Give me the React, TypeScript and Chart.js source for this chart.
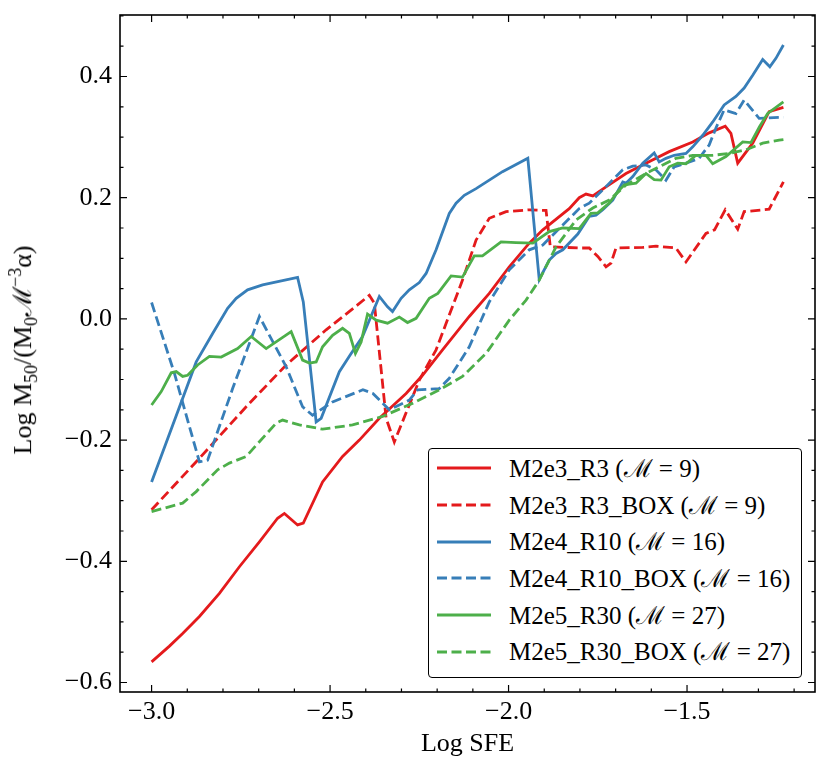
import { useEffect, useRef } from 'react'
import { Chart, registerables } from 'chart.js'

Chart.register(...registerables)

const FONT = "'Liberation Serif', 'DejaVu Serif', serif"
const RED = '#e41a1c'
const BLUE = '#377eb8'
const GREEN = '#4daf4a'

// axis limits (matplotlib 5% margins around the data)
const X_MIN = -3.0885
const X_MAX = -1.1415
const Y_MIN = -0.6157
const Y_MAX = 0.5015

// M2e3_R3
const R3_X = [-3.0, -2.95, -2.913, -2.866, -2.81, -2.754, -2.698, -2.647, -2.628, -2.591, -2.575, -2.521, -2.465, -2.418, -2.362, -2.287, -2.241, -2.185, -2.11, -2.054, -1.998, -1.942, -1.904, -1.83, -1.802, -1.783, -1.764, -1.727, -1.671, -1.615, -1.55, -1.484, -1.438, -1.393, -1.377, -1.358, -1.316, -1.27, -1.23]
const R3_Y = [-0.566, -0.54, -0.519, -0.491, -0.453, -0.409, -0.368, -0.329, -0.321, -0.34, -0.337, -0.269, -0.227, -0.2, -0.164, -0.123, -0.093, -0.051, 0.004, 0.042, 0.086, 0.125, 0.147, 0.182, 0.2, 0.206, 0.203, 0.218, 0.24, 0.257, 0.276, 0.292, 0.307, 0.318, 0.306, 0.257, 0.29, 0.342, 0.349]

// M2e3_R3_BOX
const R3B_X = [-3.0, -2.866, -2.735, -2.623, -2.511, -2.423, -2.39, -2.376, -2.343, -2.32, -2.25, -2.203, -2.129, -2.091, -2.054, -2.007, -1.942, -1.895, -1.883, -1.802, -1.774, -1.75, -1.727, -1.713, -1.699, -1.624, -1.587, -1.531, -1.503, -1.447, -1.423, -1.393, -1.358, -1.34, -1.27, -1.23]
const R3B_Y = [-0.315, -0.23, -0.145, -0.076, -0.018, 0.023, 0.039, 0.026, -0.164, -0.203, -0.101, -0.051, 0.064, 0.13, 0.166, 0.177, 0.18, 0.179, 0.119, 0.117, 0.117, 0.103, 0.086, 0.092, 0.117, 0.118, 0.12, 0.117, 0.094, 0.141, 0.147, 0.18, 0.148, 0.177, 0.181, 0.226]

// M2e4_R10
const R10_X = [-3.0, -2.875, -2.829, -2.787, -2.763, -2.731, -2.689, -2.591, -2.575, -2.539, -2.525, -2.474, -2.441, -2.409, -2.362, -2.339, -2.325, -2.301, -2.278, -2.25, -2.231, -2.203, -2.166, -2.147, -2.124, -2.091, -2.054, -2.017, -1.946, -1.914, -1.886, -1.867, -1.848, -1.806, -1.774, -1.755, -1.736, -1.708, -1.68, -1.671, -1.652, -1.624, -1.592, -1.578, -1.559, -1.536, -1.503, -1.484, -1.456, -1.428, -1.396, -1.363, -1.34, -1.316, -1.288, -1.268, -1.251, -1.23]
const R10_Y = [-0.269, -0.071, -0.024, 0.0175, 0.034, 0.048, 0.056, 0.0686, 0.028, -0.17, -0.164, -0.087, -0.057, -0.029, 0.037, 0.02, 0.012, 0.034, 0.048, 0.06, 0.075, 0.114, 0.174, 0.191, 0.204, 0.215, 0.229, 0.243, 0.265, 0.065, 0.097, 0.108, 0.114, 0.14, 0.169, 0.171, 0.18, 0.196, 0.226, 0.224, 0.235, 0.257, 0.274, 0.259, 0.265, 0.27, 0.273, 0.284, 0.303, 0.325, 0.353, 0.367, 0.381, 0.402, 0.428, 0.416, 0.43, 0.452]

// M2e4_R10_BOX
const R10B_X = [-3.0, -2.936, -2.866, -2.843, -2.773, -2.698, -2.623, -2.577, -2.549, -2.493, -2.408, -2.38, -2.334, -2.278, -2.255, -2.194, -2.166, -2.11, -2.054, -1.998, -1.942, -1.904, -1.848, -1.802, -1.774, -1.736, -1.68, -1.652, -1.615, -1.587, -1.559, -1.536, -1.503, -1.466, -1.438, -1.419, -1.396, -1.363, -1.34, -1.298, -1.23]
const R10B_Y = [0.027, -0.09, -0.236, -0.233, -0.115, 0.004, -0.079, -0.145, -0.159, -0.137, -0.117, -0.123, -0.15, -0.134, -0.117, -0.115, -0.098, -0.046, 0.028, 0.081, 0.114, 0.122, 0.155, 0.182, 0.191, 0.213, 0.246, 0.252, 0.254, 0.246, 0.229, 0.251, 0.257, 0.265, 0.287, 0.315, 0.345, 0.339, 0.361, 0.331, 0.333]

// M2e5_R30
const R30_X = [-3.0, -2.973, -2.945, -2.931, -2.913, -2.899, -2.871, -2.838, -2.805, -2.759, -2.721, -2.679, -2.609, -2.577, -2.558, -2.539, -2.521, -2.493, -2.465, -2.446, -2.429, -2.413, -2.395, -2.371, -2.339, -2.306, -2.283, -2.259, -2.222, -2.198, -2.161, -2.129, -2.096, -2.073, -2.021, -1.979, -1.932, -1.886, -1.848, -1.802, -1.769, -1.75, -1.718, -1.694, -1.676, -1.643, -1.615, -1.592, -1.573, -1.55, -1.526, -1.503, -1.475, -1.447, -1.428, -1.391, -1.344, -1.321, -1.297, -1.274, -1.23]
const R30_Y = [-0.142, -0.12, -0.089, -0.087, -0.095, -0.093, -0.076, -0.062, -0.063, -0.049, -0.029, -0.049, -0.021, -0.068, -0.073, -0.071, -0.046, -0.027, -0.0155, -0.024, -0.057, -0.038, 0.008, -0.002, -0.007, 0.003, -0.006, 0.001, 0.034, 0.042, 0.071, 0.069, 0.104, 0.104, 0.127, 0.126, 0.125, 0.144, 0.15, 0.149, 0.174, 0.175, 0.191, 0.21, 0.221, 0.224, 0.24, 0.23, 0.229, 0.251, 0.257, 0.256, 0.27, 0.27, 0.256, 0.268, 0.292, 0.291, 0.317, 0.339, 0.358]

// M2e5_R30_BOX
const R30B_X = [-3.0, -2.913, -2.875, -2.815, -2.782, -2.735, -2.651, -2.633, -2.586, -2.521, -2.437, -2.353, -2.268, -2.194, -2.129, -2.063, -1.998, -1.951, -1.914, -1.867, -1.811, -1.764, -1.718, -1.671, -1.615, -1.568, -1.531, -1.484, -1.428, -1.382, -1.335, -1.288, -1.242, -1.23]
const R30B_Y = [-0.318, -0.304, -0.285, -0.249, -0.238, -0.227, -0.172, -0.167, -0.175, -0.182, -0.175, -0.161, -0.139, -0.117, -0.095, -0.057, -0.002, 0.031, 0.064, 0.119, 0.163, 0.183, 0.196, 0.221, 0.24, 0.254, 0.265, 0.27, 0.27, 0.273, 0.279, 0.29, 0.295, 0.296]

const SERIES = [
  { name: 'M2e3_R3', mach: 9, xs: R3_X, ys: R3_Y, color: RED, dashed: false },
  { name: 'M2e3_R3_BOX', mach: 9, xs: R3B_X, ys: R3B_Y, color: RED, dashed: true },
  { name: 'M2e4_R10', mach: 16, xs: R10_X, ys: R10_Y, color: BLUE, dashed: false },
  { name: 'M2e4_R10_BOX', mach: 16, xs: R10B_X, ys: R10B_Y, color: BLUE, dashed: true },
  { name: 'M2e5_R30', mach: 27, xs: R30_X, ys: R30_Y, color: GREEN, dashed: false },
  { name: 'M2e5_R30_BOX', mach: 27, xs: R30B_X, ys: R30B_Y, color: GREEN, dashed: true },
]

const DASH = [10, 4.5]

function fmt(v: number) {
  const r = Math.round(v * 10) / 10
  if (r === 0) return '0.0'
  return (r < 0 ? '\u2212' : '') + Math.abs(r).toFixed(1)
}

// inward major/minor ticks on all four sides, plus the frame
const frameTicks = {
  id: 'frameTicks',
  afterDatasetsDraw(chart: any) {
    const { ctx, chartArea } = chart
    const { left, right, top, bottom } = chartArea
    const xs = chart.scales.x
    const ys = chart.scales.y
    ctx.save()
    ctx.strokeStyle = '#000'
    ctx.lineWidth = 1.2
    ctx.beginPath()
    for (let i = -30; i <= -12; i++) {
      const px = xs.getPixelForValue(i / 10)
      const len = i % 5 === 0 ? 7 : 3.5
      ctx.moveTo(px, bottom); ctx.lineTo(px, bottom - len)
      ctx.moveTo(px, top); ctx.lineTo(px, top + len)
    }
    for (let i = -12; i <= 10; i++) {
      const v = i / 20
      if (v < Y_MIN || v > Y_MAX) continue
      const py = ys.getPixelForValue(v)
      const len = i % 4 === 0 ? 7 : 3.5
      ctx.moveTo(left, py); ctx.lineTo(left + len, py)
      ctx.moveTo(right, py); ctx.lineTo(right - len, py)
    }
    ctx.stroke()
    ctx.lineWidth = 1.6
    ctx.strokeRect(left, top, right - left, bottom - top)
    ctx.restore()
  },
}

function LegendSample({ color, dashed }: { color: string; dashed: boolean }) {
  return (
    <svg width={54} height={10} style={{ display: 'block' }}>
      <line x1={0} y1={5} x2={54} y2={5} stroke={color} strokeWidth={2.8}
        strokeDasharray={dashed ? DASH.join(' ') : undefined} />
    </svg>
  )
}

export default function App() {
  const canvasRef = useRef<HTMLCanvasElement>(null)
  const chartRef = useRef<Chart | null>(null)

  useEffect(() => {
    if (!canvasRef.current) return
    chartRef.current?.destroy()
    const tickFont = { family: FONT, size: 26 }

    chartRef.current = new Chart(canvasRef.current, {
      type: 'line',
      data: {
        datasets: SERIES.map((s, i) => ({
          label: s.name,
          data: s.xs.map((x, j) => ({ x, y: s.ys[j] })),
          borderColor: s.color,
          backgroundColor: s.color,
          borderWidth: 2.8,
          borderDash: s.dashed ? DASH : [],
          pointRadius: 0,
          tension: 0,
          fill: false,
          order: -i,
        })),
      },
      options: {
        animation: false,
        responsive: false,
        layout: { padding: { left: 0, top: 15, right: 15, bottom: 0 } },
        plugins: { legend: { display: false }, tooltip: { enabled: false } },
        scales: {
          x: {
            type: 'linear',
            min: X_MIN,
            max: X_MAX,
            grid: { display: false, drawTicks: false },
            border: { display: false },
            ticks: {
              stepSize: 0.5, includeBounds: false, padding: 5, color: '#000',
              font: tickFont, maxRotation: 0, autoSkip: false,
              callback: (v: any) => fmt(Number(v)),
            },
            title: {
              display: true, text: 'Log SFE', color: '#000', font: tickFont,
              padding: { top: 0, bottom: 14 },
            },
            afterFit: (s: any) => { s.height = 82; s.paddingLeft = 0; s.paddingRight = 0 },
          },
          y: {
            type: 'linear',
            min: Y_MIN,
            max: Y_MAX,
            grid: { display: false, drawTicks: false },
            border: { display: false },
            ticks: {
              stepSize: 0.2, includeBounds: false, padding: 8, color: '#000',
              font: tickFont, autoSkip: false,
              callback: (v: any) => fmt(Number(v)),
            },
            afterFit: (s: any) => { s.width = 120; s.paddingTop = 0; s.paddingBottom = 0 },
          },
        },
      },
      plugins: [frameTicks],
    } as any)

    return () => { chartRef.current?.destroy() }
  }, [])

  return (
    <div style={{ position: 'absolute', left: 0, top: 0, width: 830, height: 774, background: '#fff', fontFamily: FONT }}>
      <canvas ref={canvasRef} width={830} height={774} style={{ width: 830, height: 774, display: 'block' }} />
      <div style={{
        position: 'absolute', left: 23, top: 350, whiteSpace: 'nowrap', fontSize: 26, color: '#000',
        transform: 'translate(-50%, -50%) rotate(-90deg)', lineHeight: 1,
      }}>
        Log M<sub style={{ fontSize: 18 }}>50</sub>/(M<sub style={{ fontSize: 18 }}>0</sub>{'\u2133'}<sup style={{ fontSize: 18 }}>{'\u2212'}3</sup>{'\u03b1'})
      </div>
      <div style={{
        position: 'absolute', left: 428, top: 448, width: 374, height: 230, boxSizing: 'border-box',
        border: '1.4px solid #000', borderRadius: 4, background: '#fff', paddingTop: 1,
      }}>
        {SERIES.map(s => (
          <div key={s.name} style={{ display: 'flex', alignItems: 'center', height: 36.7 }}>
            <div style={{ marginLeft: 8, width: 54 }}><LegendSample color={s.color} dashed={s.dashed} /></div>
            <div style={{ marginLeft: 18, fontSize: 25, lineHeight: 1, color: '#000', whiteSpace: 'nowrap' }}>
              {s.name} ({'\u2133'} = {s.mach})
            </div>
          </div>
        ))}
      </div>
    </div>
  )
}
